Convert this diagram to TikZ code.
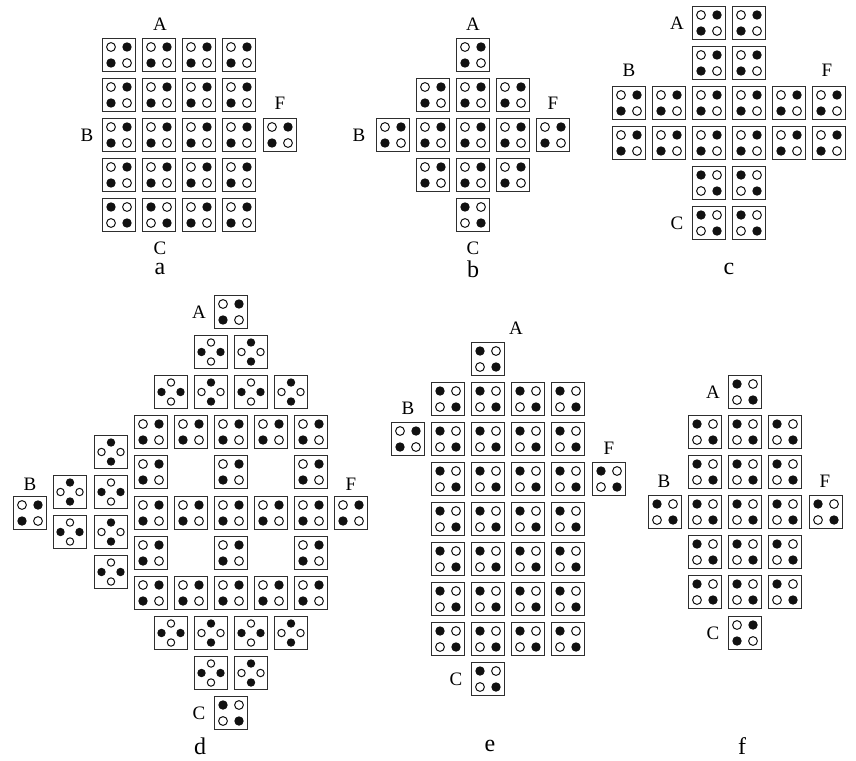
\documentclass[tikz,border=0pt]{standalone}
\usepackage{fontspec}
\setmainfont{Liberation Serif}
\usepackage{tikz}
\definecolor{frame}{HTML}{2E2E2E}
\definecolor{pip}{HTML}{111111}

\begin{document}
\begin{tikzpicture}[
    x=0.5pt, y=-0.5pt,
    lbl/.style={font=\fontsize{9.5}{11}\selectfont, inner sep=0pt},
    sub/.style={font=\fontsize{12}{14}\selectfont, inner sep=0pt},
    tile/.style={draw=frame, fill=white, line width=0.8pt},
    full/.style={fill=pip},
    hole/.style={draw=pip, fill=white, line width=0.5pt},
    ptile/.pic={
        \draw[tile] (-16.5,-16.5) rectangle (16.5,16.5);
        \draw[hole] (-8,-8) circle (4.4);
        \fill[full] (8,-8) circle (4.7);
        \fill[full] (-8,8) circle (4.7);
        \draw[hole] (8,8) circle (4.4);
    },
    qtile/.pic={
        \draw[tile] (-16.5,-16.5) rectangle (16.5,16.5);
        \fill[full] (-8,-8) circle (4.7);
        \draw[hole] (8,-8) circle (4.4);
        \draw[hole] (-8,8) circle (4.4);
        \fill[full] (8,8) circle (4.7);
    },
    htile/.pic={
        \draw[tile] (-16.5,-16.5) rectangle (16.5,16.5);
        \draw[hole] (0,-9.5) circle (3.7);
        \fill[full] (-9.5,0) circle (4.2);
        \fill[full] (9.5,0) circle (4.2);
        \draw[hole] (0,9.5) circle (3.7);
    },
    vtile/.pic={
        \draw[tile] (-16.5,-16.5) rectangle (16.5,16.5);
        \fill[full] (0,-9.5) circle (4.2);
        \draw[hole] (-9.5,0) circle (3.7);
        \draw[hole] (9.5,0) circle (3.7);
        \fill[full] (0,9.5) circle (4.2);
    },
]
\useasboundingbox (0,0) rectangle (856,760);

% --- Panel a ---
\foreach \y in {55,95,135,175}
    \foreach \x in {119,159,199,239} \pic at (\x,\y) {ptile};
\foreach \x in {119,159} \pic at (\x,215) {qtile};
\foreach \x in {199,239} \pic at (\x,215) {ptile};
\pic (aF) at (280,135) {ptile};
\node[lbl] (aA) at (160,24) {A};
\node[lbl] (aB) at (87,135) {B};
\node[lbl] (aC) at (160,248) {C};
\node[lbl] (aFl) at (280,103) {F};
\node[sub] (la) at (160,269) {a};

% --- Panel b ---
\pic at (473,55) {ptile};
\foreach \x in {433,473,513} \pic at (\x,95) {ptile};
\foreach \x in {393,433,473,513,553} \pic at (\x,135) {ptile};
\foreach \x in {433,473,513} \pic at (\x,175) {ptile};
\pic at (473,215) {qtile};
\node[lbl] (bA) at (473,24) {A};
\node[lbl] (bB) at (359,135) {B};
\node[lbl] (bC) at (473,248) {C};
\node[lbl] (bF) at (553,103) {F};
\node[sub] (lb) at (473,269) {b};

% --- Panel c ---
\foreach \y in {23,63}
    \foreach \x in {709,749} \pic at (\x,\y) {ptile};
\foreach \y in {103,143}
    \foreach \x in {629,669,709,749,789,829} \pic at (\x,\y) {ptile};
\foreach \y in {183,223}
    \foreach \x in {709,749} \pic at (\x,\y) {qtile};
\node[lbl] (cA) at (677,23) {A};
\node[lbl] (cB) at (629,70) {B};
\node[lbl] (cC) at (677,223) {C};
\node[lbl] (cF) at (827,70) {F};
\node[sub] (lc) at (729,269) {c};

% --- Panel d ---
\pic at (231,312) {ptile};
\pic at (211,352) {htile};
\pic at (251,352) {vtile};
\foreach \x in {171,251} \pic at (\x,392) {htile};
\foreach \x in {211,291} \pic at (\x,392) {vtile};
\foreach \x in {151,191,231,271,311} \pic at (\x,432) {ptile};
\foreach \x in {151,231,311} \pic at (\x,472) {ptile};
\foreach \x in {30,151,191,231,271,311,351} \pic at (\x,513) {ptile};
\foreach \x in {151,231,311} \pic at (\x,553) {ptile};
\foreach \x in {151,191,231,271,311} \pic at (\x,593) {ptile};
\foreach \x in {171,251} \pic at (\x,633) {htile};
\foreach \x in {211,291} \pic at (\x,633) {vtile};
\pic at (211,673) {htile};
\pic at (251,673) {vtile};
\pic at (231,713) {qtile};
% left wing
\pic at (111,452) {vtile};
\pic at (70,492) {vtile};
\pic at (111,492) {htile};
\pic at (70,532) {htile};
\pic at (111,532) {vtile};
\pic at (111,572) {htile};
\node[lbl] (dA) at (199,312) {A};
\node[lbl] (dB) at (30,484) {B};
\node[lbl] (dC) at (199,713) {C};
\node[lbl] (dF) at (351,484) {F};
\node[sub] (ld) at (200,746) {d};

% --- Panel e ---
\pic at (488,359) {qtile};
\foreach \y in {399,439,479,519,559,599,639}
    \foreach \x in {448,488,528,568} \pic at (\x,\y) {qtile};
\pic at (408,439) {ptile};
\pic at (609,479) {qtile};
\pic at (488,679) {qtile};
\node[lbl] (eA) at (516,328) {A};
\node[lbl] (eB) at (408,408) {B};
\node[lbl] (eC) at (456,679) {C};
\node[lbl] (eF) at (609,448) {F};
\node[sub] (le) at (490,746) {e};

% --- Panel f ---
\pic at (745,392) {qtile};
\foreach \y in {432,472,512,552,592}
    \foreach \x in {705,745,785} \pic at (\x,\y) {qtile};
\pic at (665,512) {qtile};
\pic at (826,512) {qtile};
\pic at (745,633) {ptile};
\node[lbl] (fA) at (713,392) {A};
\node[lbl] (fB) at (664,481) {B};
\node[lbl] (fC) at (713,633) {C};
\node[lbl] (fF) at (825,481) {F};
\node[sub] (lf) at (742,746) {f};

\end{tikzpicture}
\end{document}
